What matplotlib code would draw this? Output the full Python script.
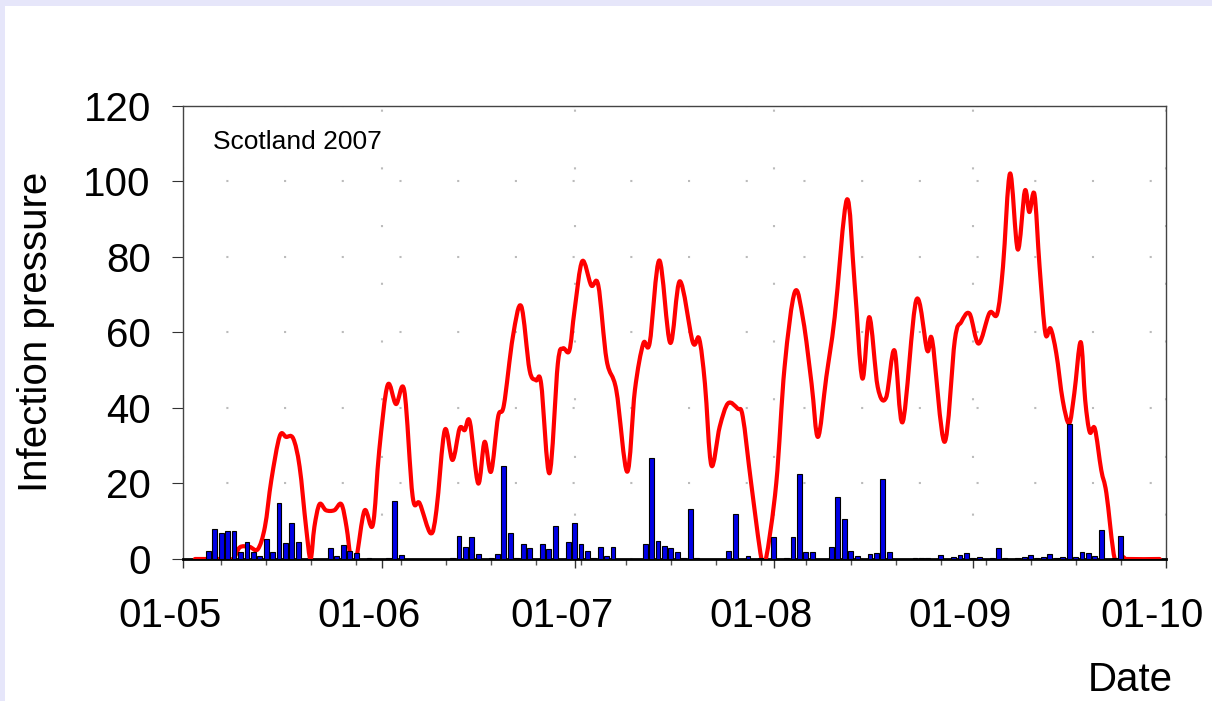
import numpy as np
import matplotlib
matplotlib.use('Agg')
import matplotlib.pyplot as plt
import matplotlib.dates as mdates
import matplotlib.transforms as mtransforms
from matplotlib.patches import Rectangle, PathPatch
from matplotlib.path import Path

plt.rcParams['font.family'] = ['Liberation Sans', 'DejaVu Sans']

# daily bars: days after 1 May 2007 and value
bar_days = [4, 5, 6, 7, 8, 9, 10, 11, 12, 13, 14, 15, 16, 17, 18, 23, 24, 25, 26, 27,
            29, 32, 33, 34, 42, 43, 44, 45, 46, 48, 49, 50, 51, 52, 53, 54, 56, 57, 58,
            60, 61, 62, 63, 64, 65, 66, 67, 72, 73, 74, 75, 76, 77, 78, 79, 80, 85, 86,
            88, 90, 92, 94, 95, 96, 97, 98, 101, 102, 103, 104, 105, 107, 108, 109, 110,
            114, 115, 116, 118, 120, 121, 122, 123, 124, 126, 127, 128, 130, 131, 132,
            133, 134, 135, 136, 137, 138, 139, 140, 141, 142, 143, 145, 146]
bar_values = [2.1, 7.9, 7.0, 7.5, 7.5, 1.9, 4.6, 1.8, 0.8, 5.4, 1.9, 14.7, 4.3, 9.6, 4.6,
              3.0, 0.8, 3.8, 2.1, 1.5, 0.3, 0.3, 15.4, 1.1, 0.3, 6.2, 3.1, 5.8, 1.4, 0.3,
              1.4, 24.6, 6.8, 0.3, 4.0, 2.8, 4.0, 2.6, 8.8, 4.4, 9.4, 4.0, 2.2, 0.3, 3.3,
              0.8, 3.1, 4.0, 26.8, 4.8, 3.4, 2.8, 1.9, 0.3, 13.2, 0.3, 2.2, 11.8, 0.8, 0.3,
              5.8, 0.3, 5.8, 22.4, 1.8, 1.9, 3.3, 16.3, 10.6, 2.2, 0.8, 1.4, 1.7, 21.3,
              1.8, 0.3, 0.3, 0.3, 1.0, 0.5, 1.0, 1.5, 0.3, 0.5, 0.3, 3.0, 0.3, 0.3, 0.5,
              1.1, 0.3, 0.5, 1.3, 0.3, 0.5, 35.6, 0.5, 1.9, 1.5, 0.8, 7.6, 0.3, 6.0]

# infection pressure curve: days after 1 May 2007 and value
line_days = [1.9, 7.0, 7.9, 8.9, 10.4, 11.7, 12.8, 13.8, 15.1, 16.1, 17.2, 18.2, 19.2, 19.9,
             20.5, 21.3, 22.3, 23.6, 24.7, 25.5, 26.2, 27.0, 28.3, 29.6, 30.6, 31.9, 33.2,
             34.5, 35.8, 36.9, 38.6, 39.5, 40.8, 42.0, 43.1, 43.9, 44.7, 46.0, 47.0, 48.0,
             49.1, 50.0, 51.4, 52.7, 54.0, 55.0, 55.8, 57.1, 58.4, 59.2, 60.2, 61.0, 62.2,
             63.6, 64.7, 66.0, 67.5, 69.2, 70.4, 71.7, 72.7, 74.2, 75.9, 77.4, 79.4, 80.4,
             81.3, 82.3, 83.6, 84.9, 86.4, 87.2, 88.5, 90.1, 90.8, 92.4, 93.7, 95.3, 96.6,
             97.9, 98.9, 100.2, 101.5, 103.4, 104.6, 105.8, 106.9, 108.2, 109.5, 110.8,
             112.1, 114.2, 115.9, 116.7, 118.6, 120.2, 121.2, 122.5, 123.9, 125.6, 126.8,
             127.7, 128.8, 130.0, 131.1, 131.8, 132.6, 133.4, 134.3, 135.1, 136.0, 137.0,
             138.0, 138.8, 139.8, 140.5, 141.2, 142.0, 143.0, 143.8, 145.1, 146.4, 147.0,
             152.1]
line_values = [0, 0, 0, 3.1, 3.2, 2.6, 8.5, 20.9, 32.5, 32.3, 31.9, 24.4, 8.5, 0,
               8.5, 14.5, 12.9, 12.9, 14.5, 8.5, 0, 0, 12.8, 9.0, 28.8, 46.0, 41.0,
               44.5, 16.5, 14.7, 6.8, 12.9, 34.1, 26.2, 34.5, 34.1, 36.3, 20.0, 31.0, 23.1,
               37.6, 40.7, 58.8, 66.9, 50.0, 47.3, 46.4, 22.7, 51.7, 55.7, 55.2, 65.8, 78.8,
               72.4, 72.4, 52.6, 44.7, 23.1, 44.7, 57.0, 57.2, 79.0, 57.2, 73.5, 57.4, 58.3,
               46.4, 24.8, 35.0, 41.2, 39.8, 37.6, 20.0, 0, 0, 20.0, 50.8, 70.7, 63.2,
               46.4, 32.3, 48.2, 64.0, 95.1, 72.9, 47.8, 64.0, 45.5, 42.7, 55.2,
               36.3, 68.5, 55.2, 57.7, 31.0, 57.9, 62.7, 64.9, 57.0, 65.1, 64.9,
               77.3, 102.0, 81.9, 97.4, 91.8, 96.5, 77.3, 59.7, 61.0, 54.4, 42.0,
               35.9, 43.8, 57.4, 42.0, 33.6, 34.5, 23.5, 17.4, 0, 0.5, 0,
               0]

yticks = [0, 20, 40, 60, 80, 100, 120]

start = mdates.date2num(np.datetime64('2007-05-01'))
end = mdates.date2num(np.datetime64('2007-10-01'))

fig = plt.figure(figsize=(12.12, 7.01), dpi=100)
fig.patch.set_facecolor('#E6E6FA')
fig.patches.append(Rectangle((5 / 1212, 0), 1, 1 - 6 / 701, transform=fig.transFigure,
                             facecolor='white', edgecolor='none', zorder=-10))

ax = fig.add_axes([182.7 / 1212, (701 - 559) / 701, 982.8 / 1212, 453.5 / 701])

# smoothed line through the points (bezier segments, like a "smoothed line" chart)
px = start + np.array(line_days)
py = np.array(line_values, dtype=float)
n = len(px)
verts = [(px[0], py[0])]
codes = [Path.MOVETO]
for i in range(n - 1):
    a = max(i - 1, 0)
    b = min(i + 2, n - 1)
    c1 = (px[i] + (px[i + 1] - px[a]) / 6, py[i] + (py[i + 1] - py[a]) / 6)
    c2 = (px[i + 1] - (px[b] - px[i]) / 6, py[i + 1] - (py[b] - py[i]) / 6)
    verts += [c1, c2, (px[i + 1], py[i + 1])]
    codes += [Path.CURVE4] * 3
ax.add_patch(PathPatch(Path(verts, codes), facecolor='none', edgecolor='#FF0000',
                       lw=3.0, joinstyle='round', capstyle='round', zorder=3))

ax.bar(start + np.array(bar_days), bar_values, width=0.75, color='#0000E6',
       edgecolor='black', linewidth=0.8, zorder=4)

ax.set_xlim(start, end)
ax.set_ylim(0, 120)
ax.set_yticks(yticks)

ax.xaxis.set_major_locator(mdates.MonthLocator())
ax.xaxis.set_major_formatter(mdates.DateFormatter('%d-%m'))
ax.xaxis.set_minor_locator(mdates.WeekdayLocator(byweekday=mdates.MO))

grid_style = (6.9, (1, 26.7))
ax.grid(True, which='major', color='#BBBBBB', linestyle=grid_style, linewidth=1.5)

ax.tick_params(axis='both', which='major', labelsize=29, direction='out', color='#333333')
ax.tick_params(axis='y', length=8, pad=15)
ax.tick_params(axis='x', which='major', length=6.5, width=1, pad=21)
ax.tick_params(axis='x', which='minor', length=4, width=1, color='#555555')

for side in ['left', 'top', 'right']:
    ax.spines[side].set_linewidth(1)
    ax.spines[side].set_color('#444444')
ax.spines['bottom'].set_linewidth(2)

shift = mtransforms.ScaledTranslation(-13 / 100, 0, fig.dpi_scale_trans)
for lab in ax.get_xticklabels():
    lab.set_transform(lab.get_transform() + shift)

fig.text(36 / 1212, 1 - 332 / 701, 'Infection pressure', rotation=90, fontsize=29,
         ha='center', va='center')
fig.text(1173 / 1212, 1 - 691 / 701, 'Date', fontsize=29, ha='right', va='baseline')
fig.text(213 / 1212, 1 - 149.3 / 701, 'Scotland 2007', fontsize=19, ha='left', va='baseline')

fig.savefig('out.png', dpi=100)
